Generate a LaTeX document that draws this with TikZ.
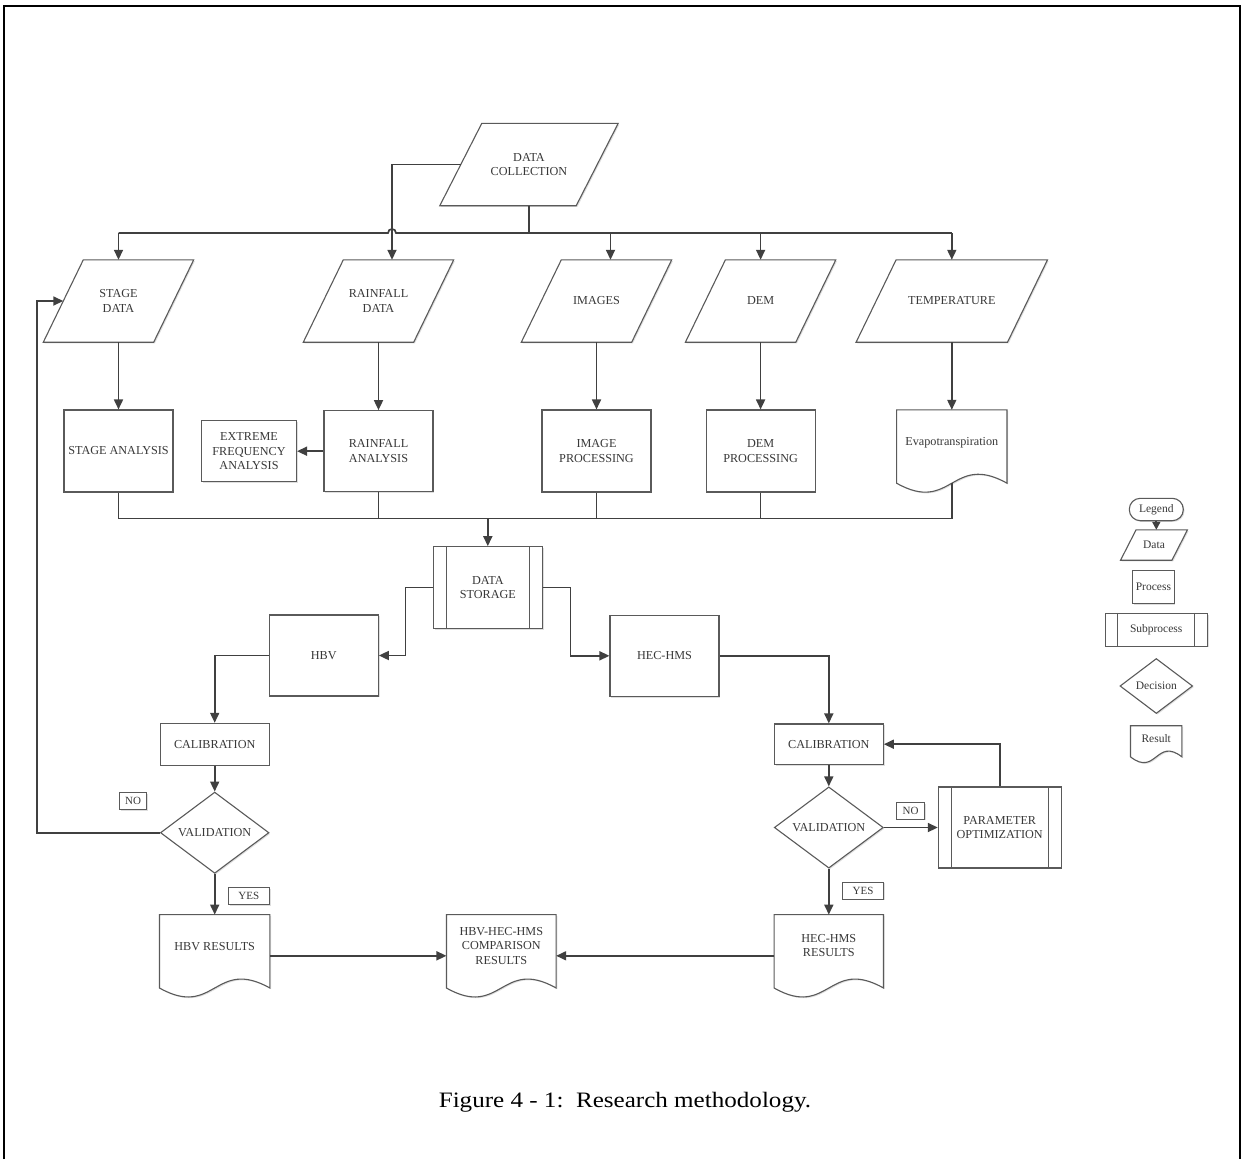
\documentclass[tikz,border=0pt]{standalone}
\usepackage{fontspec}
\usepackage{graphicx}
\setmainfont{Liberation Serif}
\usetikzlibrary{arrows.meta,shapes.geometric,backgrounds,shadows,calc}
\definecolor{linec}{HTML}{404040}
\definecolor{shapec}{HTML}{5A5A5A}
\definecolor{textc}{HTML}{383838}
\newcommand\uptext[2]{\raisebox{#1}[\height][\depth]{\begin{tabular}{@{}c@{}}#2\end{tabular}}}
\newcommand\parashape[2]{\draw[shapepath] ([xshift=#2]#1.north west) -- ([xshift=#2]#1.north east) -- ([xshift=-#2]#1.south east) -- ([xshift=-#2]#1.south west) -- cycle;}
\newcommand\docshape[2]{\draw[shapepath] (#1.south east) -- (#1.north east) -- (#1.north west) -- (#1.south west) .. controls ($(#1.south)+(0,#2)$) and ($(#1.south)+(0,-#2)$) .. (#1.south east) -- cycle;}
\newcommand\subbars[2]{\draw[draw=shapec, line width=1.1pt] ([xshift=#2]#1.north west) -- ([xshift=#2]#1.south west) ([xshift=-#2]#1.north east) -- ([xshift=-#2]#1.south east);}
\begin{document}
\begin{tikzpicture}[x=1pt,y=-1pt,
  font=\fontsize{12.2}{14.5}\selectfont, text=textc,
  conn/.style={draw=linec, line width=1.7pt},
  arr/.style={conn, -{Triangle[length=10pt,width=9pt]}},
  smallarr/.style={conn, -{Triangle[length=8pt,width=8pt]}},
  shadowed/.style={drop shadow={shadow xshift=1.2pt, shadow yshift=-1.2pt, opacity=.13, fill=black}},
  box/.style={rectangle, draw=shapec, line width=1.1pt, fill=white, align=center, inner sep=1pt, shadowed},
  ghost/.style={rectangle, draw=none, fill=none, align=center, inner sep=0pt},
  dia/.style={diamond, draw=shapec, line width=1.1pt, fill=white, inner sep=0pt, shadowed},
  lab/.style={rectangle, draw=shapec, line width=.9pt, fill=white, inner sep=0pt, font=\fontsize{11}{13}\selectfont, shadowed},
  shapepath/.style={draw=shapec, line width=1.1pt, fill=white, shadowed},
  leg/.style={font=\fontsize{11.5}{13}\selectfont}]
\useasboundingbox (0,0) rectangle (1241,1159);
% frame
\draw[black, line width=2pt] (3.5,1159) -- (3.5,5.5) -- (1239.5,5.5) -- (1239.5,1159);

% helper coordinates
\coordinate (bus) at (0,233);
\coordinate (bus2) at (0,518.5);
\coordinate (hopA) at (388,233);
\coordinate (hopB) at (396,233);
\coordinate (fb) at (37.3,0);

% data shapes
\node[ghost, minimum width=136pt, minimum height=82pt] (dc) at (529,164.5) {DATA\\COLLECTION};
\node[ghost, minimum width=110pt, minimum height=82pt] (sd) at (118.5,301) {STAGE\\DATA};
\node[ghost, minimum width=110pt, minimum height=82pt] (rd) at (378.5,301) {RAINFALL\\DATA};
\node[ghost, minimum width=110pt, minimum height=82pt] (im) at (596.5,301) {IMAGES};
\node[ghost, minimum width=110pt, minimum height=82pt] (dm) at (760.6,301) {DEM};
\node[ghost, minimum width=151pt, minimum height=82pt] (tp) at (951.8,301) {TEMPERATURE};

% process row
\node[box, minimum width=109pt, minimum height=82pt] (sa) at (118.5,451) {STAGE ANALYSIS};
\node[box, minimum width=95pt, minimum height=61pt] (efa) at (249,451.2) {EXTREME\\FREQUENCY\\ANALYSIS};
\node[box, minimum width=109pt, minimum height=81pt] (ra) at (378.5,451.2) {RAINFALL\\ANALYSIS};
\node[box, minimum width=109pt, minimum height=82pt] (ip) at (596.5,451) {IMAGE\\PROCESSING};
\node[box, minimum width=109pt, minimum height=82pt] (dp) at (760.6,451) {DEM\\PROCESSING};
\node[ghost, minimum width=110pt, minimum height=73pt] (ev) at (951.8,446.5) {\uptext{4pt}{Evapotranspiration}};

% storage and models
\node[box, minimum width=109pt, minimum height=81.6pt] (ds) at (487.8,587.5) {DATA\\STORAGE};
\subbars{ds}{13.4pt}
\node[box, minimum width=109pt, minimum height=81pt] (hbv) at (323.8,655.5) {HBV};
\node[box, minimum width=109pt, minimum height=81.5pt] (hec) at (664.5,655.8) {HEC-HMS};
\node[box, minimum width=109pt, minimum height=41.7pt] (cal1) at (214.7,744.2) {CALIBRATION};
\node[box, minimum width=109pt, minimum height=40.5pt] (cal2) at (828.8,744.2) {CALIBRATION};
\node[dia, minimum width=108.6pt, minimum height=80.6pt] (val1) at (214.7,832.7) {VALIDATION};
\node[dia, minimum width=109pt, minimum height=80.4pt] (val2) at (828.8,827.5) {VALIDATION};
\node[box, minimum width=122.7pt, minimum height=81pt] (po) at (999.7,827.5) {PARAMETER\\OPTIMIZATION};
\subbars{po}{13.4pt}

% results
\node[ghost, minimum width=110pt, minimum height=73pt] (hbvres) at (214.7,951.3) {\uptext{4pt}{HBV RESULTS}};
\node[ghost, minimum width=109.3pt, minimum height=73pt] (cmp) at (501.3,951.3) {\uptext{4.5pt}{HBV-HEC-HMS\\COMPARISON\\RESULTS}};
\node[ghost, minimum width=109pt, minimum height=73pt] (hecres) at (828.8,951.3) {\uptext{4.5pt}{HEC-HMS\\RESULTS}};

% labels
\node[lab, minimum width=27.4pt, minimum height=17pt] (no1) at (133,800.8) {NO};
\node[lab, minimum width=41pt, minimum height=17pt] (yes1) at (248.8,895.8) {YES};
\node[lab, minimum width=27.6pt, minimum height=16.3pt] (no2) at (910.5,810.8) {NO};
\node[lab, minimum width=40.6pt, minimum height=17pt] (yes2) at (863,890.7) {YES};

% legend
\node[box, leg, rounded corners=11pt, minimum width=54pt, minimum height=22.4pt] (lg) at (1156.3,509.5) {Legend};
\node[ghost, leg, minimum width=51pt, minimum height=30pt] (ldata) at (1154,545) {Data};
\node[box, leg, minimum width=41.3pt, minimum height=33.3pt] (lproc) at (1153.4,586.7) {Process};
\node[box, leg, minimum width=102.3pt, minimum height=32.7pt] (lsub) at (1156.2,629.7) {Subprocess};
\subbars{lsub}{13.3pt}
\node[dia, leg, minimum width=72.7pt, minimum height=55pt] (ldec) at (1156.3,686) {Decision};
\node[ghost, leg, minimum width=51pt, minimum height=30.7pt] (lres) at (1156.2,741.3) {\uptext{1pt}{Result}};

% caption
\node[text=black] (cap) at (625,1102) {\fontsize{22}{26}\selectfont\scalebox{1.14}[1]{Figure 4 - 1:\ \ Research methodology.}};

% background shapes (parallelograms and documents)
\begin{scope}[on background layer]
\parashape{dc}{21pt}
\parashape{sd}{20pt}
\parashape{rd}{20pt}
\parashape{im}{20pt}
\parashape{dm}{20pt}
\parashape{tp}{20pt}
\parashape{ldata}{7.75pt}
\docshape{ev}{31}
\docshape{hbvres}{31}
\docshape{cmp}{31}
\docshape{hecres}{31}
\docshape{lres}{20}
\end{scope}

% connectors: top
\draw[conn] (dc.south) -- (dc.south |- bus);
\draw[conn] (sd.north |- bus) -- (hopA) .. controls ($(hopA)+(0,-5.3)$) and ($(hopB)+(0,-5.3)$) .. (hopB) -- (tp.north |- bus);
\draw[arr] (sd.north |- bus) -- (sd.north);
\draw[arr] (dc.west) -| ([xshift=13.5pt]rd.north);
\draw[arr] ([xshift=14pt]im.north |- bus) -- ([xshift=14pt]im.north);
\draw[arr] (dm.north |- bus) -- (dm.north);
\draw[arr] (tp.north |- bus) -- (tp.north);

\draw[arr] (sd.south) -- (sa.north);
\draw[arr] (rd.south) -- (ra.north);
\draw[arr] (im.south) -- (ip.north);
\draw[arr] (dm.south) -- (dp.north);
\draw[arr] (tp.south) -- (ev.north);
\draw[arr] (ra.west) -- (efa.east);

% collecting bus
\draw[conn] (sa.south) -- (sa.south |- bus2) -- (ev.south |- bus2) -- (ev.south);
\draw[conn] (ra.south) -- (ra.south |- bus2);
\draw[conn] (ip.south) -- (ip.south |- bus2);
\draw[conn] (dp.south) -- (dp.south |- bus2);
\draw[arr] (ds.north |- bus2) -- (ds.north);

% models
\draw[arr] (ds.west) -- ++(-27.3,0) |- (hbv.east);
\draw[arr] (ds.east) -- ++(27.7,0) |- (hec.west);
\draw[arr] (hbv.west) -| (cal1.north);
\draw[arr] (hec.east) -| (cal2.north);
\draw[arr] (cal1.south) -- (val1.north);
\draw[arr] (cal2.south) -- (val2.north);
\draw[arr] (val1.south) -- (hbvres.north);
\draw[arr] (val2.south) -- (hecres.north);
\draw[arr] (val2.east) -- (po.west);
\draw[arr] (po.north) |- (cal2.east);
\draw[arr] (val1.west) -- (val1.west -| fb) |- (sd.west);
\draw[arr] ([yshift=-4.5pt]hbvres.east) -- ([yshift=-4.5pt]cmp.west);
\draw[arr] ([yshift=-4.5pt]hecres.west) -- ([yshift=-4.5pt]cmp.east);

% legend arrow
\draw[smallarr] (lg.south) -- (lg.south |- ldata.north);
\end{tikzpicture}
\end{document}
